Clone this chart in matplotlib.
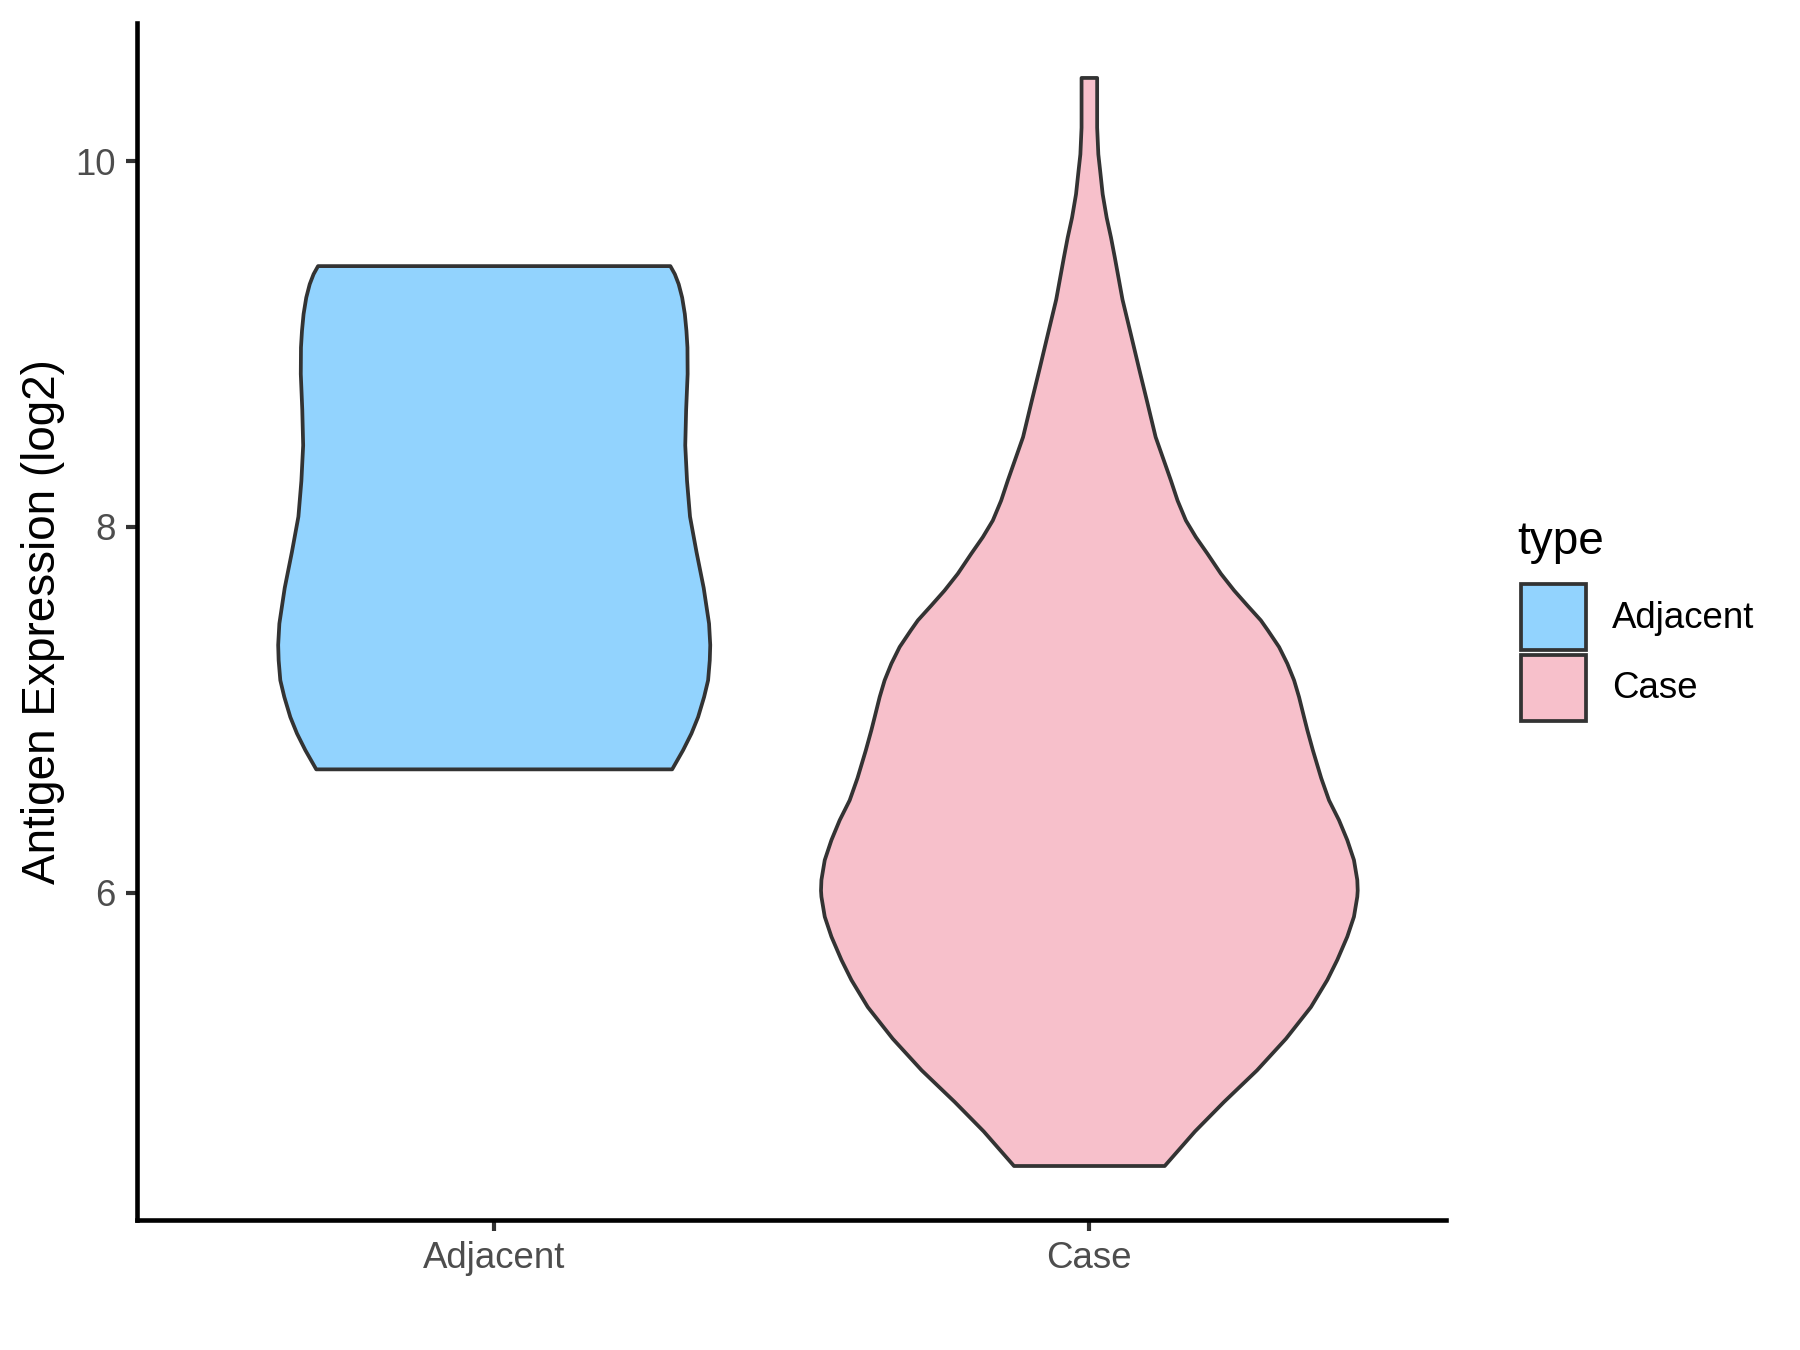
import numpy as np
import matplotlib
matplotlib.use("Agg")
import matplotlib.pyplot as plt
from matplotlib.patches import Rectangle

plt.rcParams['font.family'] = ['Liberation Sans', 'DejaVu Sans']

# groups and their x positions on the discrete axis
groups = ["Adjacent", "Case"]
fill_colors = ["#92D3FE", "#F7C0CB"]
edge_color = "#333333"

# violin outlines: expression value and half width
adjacent_y = [9.429, 9.385, 9.330, 9.257, 9.167, 9.075, 8.984, 8.839,
              8.644, 8.449, 8.254, 8.059, 7.864, 7.669, 7.474, 7.357,
              7.273, 7.164, 7.073, 6.963, 6.873, 6.782, 6.677]
adjacent_hw = [0.296, 0.3035, 0.310, 0.3158, 0.3203, 0.323, 0.3247, 0.325,
               0.3225, 0.321, 0.324, 0.329, 0.340, 0.352, 0.361, 0.363,
               0.3622, 0.3594, 0.3527, 0.3426, 0.3314, 0.3174, 0.299]

case_y = [10.458, 10.186, 10.040, 9.949, 9.822, 9.694, 9.585, 9.476,
          9.246, 9.058, 8.870, 8.682, 8.494, 8.256, 8.147,
          8.038, 7.947, 7.856, 7.747, 7.655, 7.573, 7.492, 7.437,
          7.346, 7.255, 7.164, 7.073, 6.963, 6.891, 6.780, 6.629,
          6.508, 6.399, 6.290, 6.181, 6.072, 6.014, 5.980, 5.871,
          5.762, 5.635, 5.525, 5.377, 5.204, 5.031, 4.858, 4.697, 4.508]
case_hw = [0.0131, 0.0131, 0.0151, 0.0182, 0.0224, 0.0291, 0.0364, 0.0428,
           0.0557, 0.0696, 0.0834, 0.0975, 0.1114, 0.1371, 0.1482,
           0.1622, 0.1790, 0.1985, 0.2210, 0.2433, 0.2656, 0.2881, 0.300,
           0.3188, 0.3327, 0.344, 0.3523, 0.3607, 0.3663, 0.3757, 0.3896,
           0.4027, 0.4195, 0.4334, 0.4446, 0.4502, 0.4509, 0.4502, 0.4446,
           0.4334, 0.4166, 0.3998, 0.3723, 0.3304, 0.2817, 0.2262, 0.1775, 0.1266]

y_ticks = [6, 8, 10]

fig = plt.figure(figsize=(6, 4.5), dpi=300)
ax = fig.add_axes([0.0759, 0.0963, 0.7274, 0.8867])

profiles = [(adjacent_y, adjacent_hw), (case_y, case_hw)]
for i, (yy, hw) in enumerate(profiles):
    pos = i + 1
    yy = np.array(yy)
    hw = np.array(hw)
    ax.fill_betweenx(yy, pos - hw, pos + hw, facecolor=fill_colors[i],
                     edgecolor=edge_color, linewidth=0.9, joinstyle="round",
                     zorder=2)

ax.set_xlim(0.4, 2.6)
ax.set_ylim(4.21, 10.756)
ax.set_xticks([1, 2])
ax.set_xticklabels(groups)
ax.set_yticks(y_ticks)
ax.set_yticklabels([str(t) for t in y_ticks])
ax.set_ylabel("Antigen Expression (log2)", fontsize=11, color="black", labelpad=2.5)

for s in ["top", "right"]:
    ax.spines[s].set_visible(False)
for s in ["left", "bottom"]:
    ax.spines[s].set_linewidth(1.1)
    ax.spines[s].set_color("black")
ax.tick_params(axis="both", length=2.75, width=1.0, color="#333333",
               labelsize=8.8, labelcolor="#4D4D4D", pad=2.2)

# legend drawn by hand like the ggplot guide
W, H = 1800.0, 1350.0
fig.text(1517 / W, 1 - 542 / H, "type", fontsize=11, ha="left", va="center")
key_tops = [584, 655]
for i, g in enumerate(groups):
    top = key_tops[i]
    fig.add_artist(Rectangle((1521 / W, 1 - (top + 66) / H), 65 / W, 66 / H,
                             transform=fig.transFigure, facecolor=fill_colors[i],
                             edgecolor=edge_color, linewidth=0.9))
    fig.text(1612 / W, 1 - (top + 34) / H, g, fontsize=8.8, ha="left", va="center")

fig.savefig("out.png", dpi=300)
